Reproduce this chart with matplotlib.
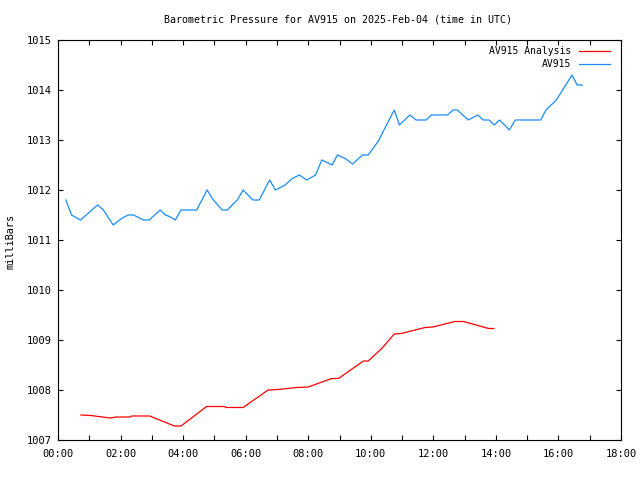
import matplotlib
matplotlib.use("Agg")
import matplotlib.pyplot as plt
import matplotlib.dates as mdates
import pandas as pd

day = "2025-02-04"
obs_times = ["00:15", "00:26", "00:43", "01:16", "01:27", "01:46", "01:58", "02:05", "02:15", "02:25",
             "02:44", "02:55", "03:16", "03:26", "03:34", "03:45", "03:56", "04:26", "04:46", "04:58",
             "05:15", "05:25", "05:34", "05:44", "05:55", "06:14", "06:26", "06:46", "06:57", "07:16",
             "07:28", "07:43", "07:57", "08:14", "08:26", "08:46", "08:56", "09:11", "09:25", "09:44",
             "09:55", "10:14", "10:45", "10:55", "11:05", "11:15", "11:27", "11:46", "11:56", "12:27",
             "12:38", "12:46", "13:07", "13:25", "13:36", "13:47", "13:57", "14:07", "14:26", "14:37",
             "15:26", "15:36", "15:56", "16:26", "16:36", "16:46"]
obs_mb = [1011.8, 1011.5, 1011.4, 1011.7, 1011.6, 1011.3, 1011.4, 1011.45, 1011.5, 1011.5,
          1011.4, 1011.4, 1011.6, 1011.5, 1011.47, 1011.4, 1011.6, 1011.6, 1012.0, 1011.8,
          1011.6, 1011.6, 1011.7, 1011.8, 1012.0, 1011.8, 1011.8, 1012.2, 1012.0, 1012.1,
          1012.22, 1012.3, 1012.2, 1012.3, 1012.6, 1012.5, 1012.7, 1012.63, 1012.52, 1012.7,
          1012.7, 1012.97, 1013.6, 1013.3, 1013.4, 1013.5, 1013.4, 1013.4, 1013.5, 1013.5,
          1013.6, 1013.6, 1013.4, 1013.5, 1013.4, 1013.4, 1013.3, 1013.4, 1013.2, 1013.4,
          1013.4, 1013.6, 1013.8, 1014.3, 1014.1, 1014.1]

ana_times = ["00:44", "01:03", "01:40", "01:51", "02:18", "02:21", "02:56", "03:43", "03:56", "04:45",
             "05:19", "05:22", "05:55", "06:43", "07:02", "07:38", "08:00", "08:45", "08:58", "09:46",
             "09:55", "10:21", "10:45", "10:58", "11:44", "11:59", "12:41", "12:58", "13:46", "13:56"]
ana_mb = [1007.50, 1007.49, 1007.44, 1007.46, 1007.46, 1007.48, 1007.48, 1007.28, 1007.28, 1007.67,
          1007.67, 1007.65, 1007.65, 1008.00, 1008.01, 1008.05, 1008.06, 1008.23, 1008.23, 1008.58,
          1008.58, 1008.83, 1009.12, 1009.13, 1009.25, 1009.26, 1009.37, 1009.37, 1009.23, 1009.23]

title = "Barometric Pressure for AV915 on 2025-Feb-04 (time in UTC)"
ylabel = "milliBars"
label_ana = "AV915 Analysis"
label_obs = "AV915"

def to_dt(ts):
    return pd.to_datetime([f"{day} {t}" for t in ts])

mono = ["DejaVu Sans Mono"]
plt.rcParams['font.family'] = mono

fig = plt.figure(figsize=(6.4, 4.8), dpi=100)
ax = fig.add_axes([58/640, 1-440/480, (621-58)/640, 400/480])

ax.plot(to_dt(ana_times), ana_mb, color="#ff0000", lw=0.9, label=label_ana)
ax.plot(to_dt(obs_times), obs_mb, color="#1a8cff", lw=0.9, label=label_obs)

ax.set_xlim(pd.Timestamp(f"{day} 00:00"), pd.Timestamp(f"{day} 18:00"))
ax.set_ylim(1007, 1015)
ax.xaxis.set_major_locator(mdates.HourLocator(interval=2))
ax.xaxis.set_minor_locator(mdates.HourLocator(interval=1))
ax.xaxis.set_major_formatter(mdates.DateFormatter("%H:%M"))
ax.set_yticks(range(1007, 1016))

ax.tick_params(which="both", direction="in", top=True, right=True, length=3.5, width=0.8,
               labelsize=7.5, colors="black")
ax.tick_params(axis="x", which="major", pad=6.5)
ax.tick_params(axis="y", which="major", pad=4.5)
for s in ax.spines.values():
    s.set_linewidth(0.8)

fig.text(338/640, 1-20/480, title, ha="center", va="center", fontsize=7.2)
fig.text(11/640, 1-241/480, ylabel, ha="center", va="center", rotation=90, fontsize=7.4)

leg = ax.legend(loc="upper right", bbox_to_anchor=(610/640, 1-46/480), bbox_transform=fig.transFigure,
                frameon=False, markerfirst=False, fontsize=7.0, handlelength=3.2,
                handletextpad=0.8, borderpad=0, labelspacing=0.3, borderaxespad=0)

fig.savefig("out.png", dpi=100)
